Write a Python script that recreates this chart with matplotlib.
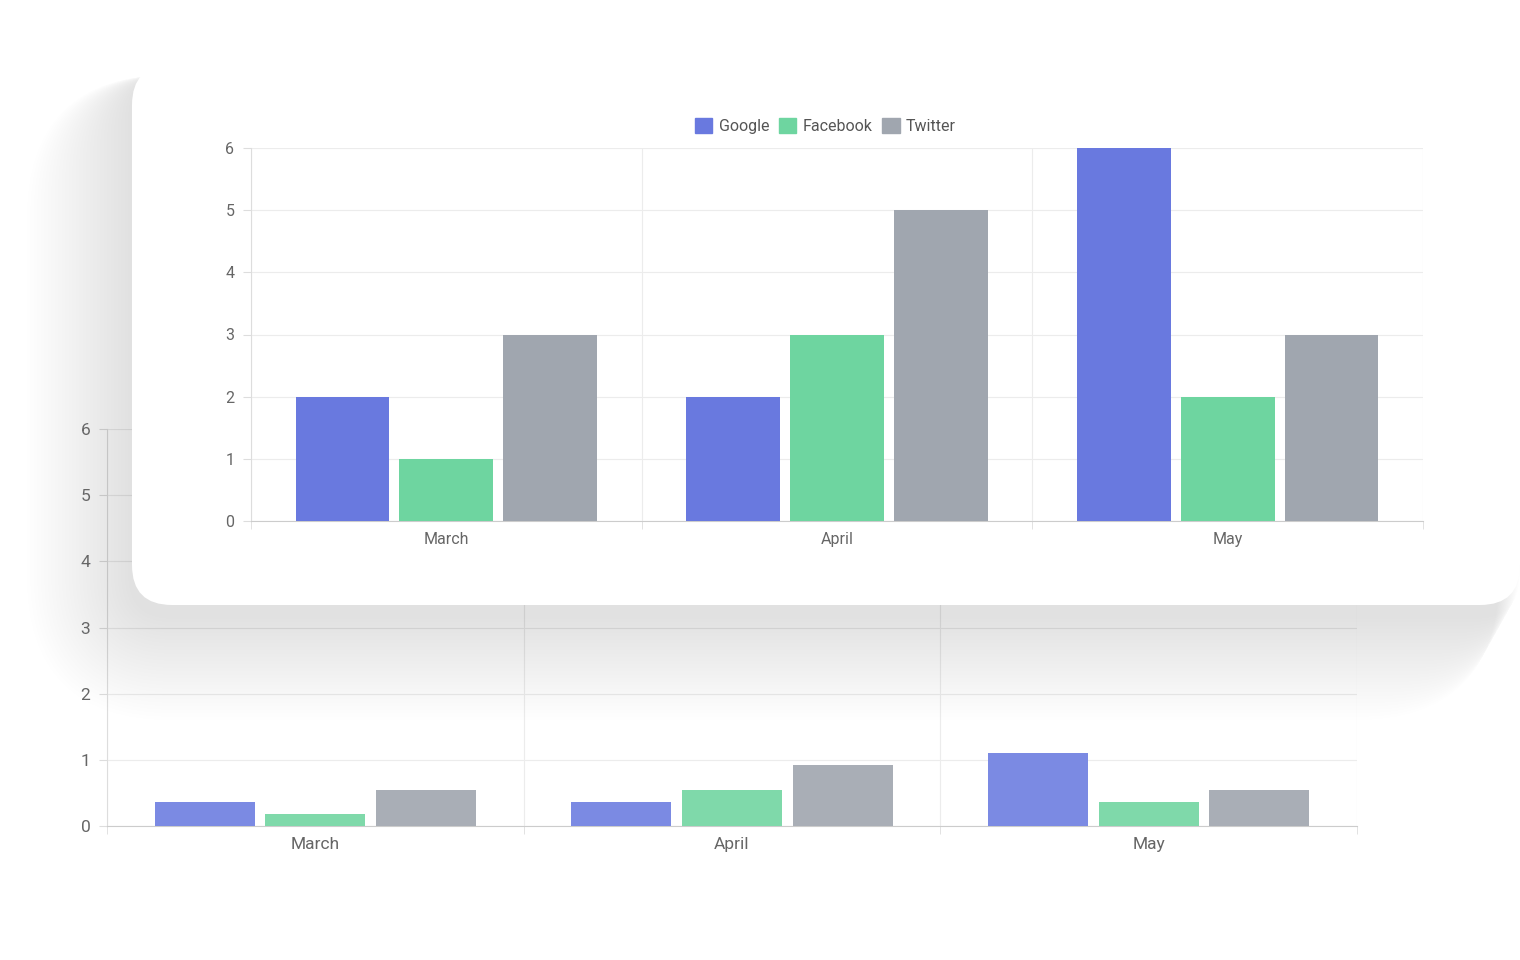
import numpy as np
import matplotlib.pyplot as plt
from matplotlib.patches import FancyBboxPatch, Patch

months = ["March", "April", "May"]
series = ["Google", "Facebook", "Twitter"]
google = [2, 2, 6]
facebook = [1, 3, 2]
twitter = [3, 5, 3]
# faded chart behind the card
bg_google = [0.37, 0.37, 1.1]
bg_facebook = [0.18, 0.55, 0.37]
bg_twitter = [0.55, 0.92, 0.55]

colors = ["#6979df", "#6ed5a0", "#a0a6af"]
bg_colors = ["#7b8ae3", "#7fd9aa", "#a9aeb6"]
W, H = 1520, 960

plt.rcParams['font.family'] = ['Roboto', 'DejaVu Sans']
fig = plt.figure(figsize=(15.2, 9.6), dpi=100)


def px_axes(l, t, r, b):
    return fig.add_axes([l / W, 1 - b / H, (r - l) / W, (b - t) / H])


def bar_chart(ax, values, cols, fs):
    x = np.arange(len(months))
    for i, (vals, c) in enumerate(zip(values, cols)):
        ax.bar(x + (i - 1) * 0.266, vals, width=0.24, color=c, zorder=3)
    ax.set_xlim(-0.5, 2.5)
    ax.set_ylim(0, 6)
    ax.set_yticks(range(7))
    ax.set_xticks(x)
    ax.set_xticklabels(months)
    ax.set_xticks([-0.5, 0.5, 1.5, 2.5], minor=True)
    ax.grid(True, axis='y', color="#ececec", lw=0.8, zorder=0)
    ax.grid(True, axis='x', which='minor', color="#ececec", lw=0.8, zorder=0)
    ax.tick_params(axis='x', which='major', length=0, pad=8, labelsize=fs, labelcolor="#666")
    ax.tick_params(axis='x', which='minor', length=6, color="#ddd")
    ax.tick_params(axis='y', length=6, color="#ddd", pad=6, labelsize=fs, labelcolor="#666")
    for s in ["top", "right"]:
        ax.spines[s].set_visible(False)
    ax.spines["left"].set_color("#ddd")
    ax.spines["bottom"].set_color("#ccc")
    ax.set_facecolor("none")


# background chart
bg = px_axes(107, 429, 1357, 826)
bar_chart(bg, [bg_google, bg_facebook, bg_twitter], bg_colors, 12.5)
bg.set_zorder(1)

# card with soft shadow, mostly to the left and below
card = fig.add_axes([0, 0, 1, 1])
card.set_xlim(0, W)
card.set_ylim(H, 0)
card.axis("off")
card.set_zorder(2)
for k in range(30, 0, -1):
    pad = k * 3.5
    card.add_patch(FancyBboxPatch((132 - pad, 65 + 10), 1388 + pad * 0.8, 540 + pad,
                                  boxstyle="round,pad=0,rounding_size=%d" % (40 + pad),
                                  fc="#a8aeb6", ec="none", alpha=0.006))
card.add_patch(FancyBboxPatch((132, 65), 1388, 540, boxstyle="round,pad=0,rounding_size=40",
                              fc="white", ec="none"))

# foreground chart
fg = px_axes(251, 148, 1423, 521)
bar_chart(fg, [google, facebook, twitter], colors, 11.5)
fg.set_zorder(3)
handles = [Patch(color=c, label=s) for c, s in zip(colors, series)]
fg.legend(handles=handles, loc="lower center", bbox_to_anchor=(0.49, 1.0), ncol=3, frameon=False,
          handlelength=1.1, handleheight=1.1, handletextpad=0.4, columnspacing=0.6,
          fontsize=11.5, labelcolor="#555")

fig.savefig("out.png", dpi=100, facecolor="white")
